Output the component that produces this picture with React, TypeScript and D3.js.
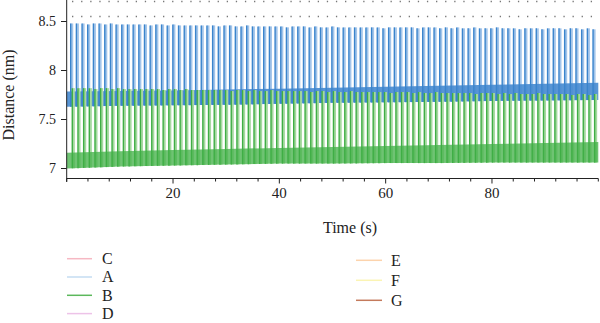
import React from "react";
import * as d3 from "d3";

// Spike times (s), one per cycle
const cycleTimes = [
  0.75, 1.82, 2.89, 3.95, 5.02, 6.09, 7.16, 8.23, 9.29, 10.36,
  11.43, 12.5, 13.57, 14.63, 15.7, 16.77, 17.84, 18.91, 19.97, 21.04,
  22.11, 23.18, 24.25, 25.31, 26.38, 27.45, 28.52, 29.59, 30.65, 31.72,
  32.79, 33.86, 34.93, 35.99, 37.06, 38.13, 39.2, 40.27, 41.33, 42.4,
  43.47, 44.54, 45.61, 46.67, 47.74, 48.81, 49.88, 50.95, 52.01, 53.08,
  54.15, 55.22, 56.29, 57.35, 58.42, 59.49, 60.56, 61.63, 62.69, 63.76,
  64.83, 65.9, 66.97, 68.03, 69.1, 70.17, 71.24, 72.31, 73.37, 74.44,
  75.51, 76.58, 77.65, 78.71, 79.78, 80.85, 81.92, 82.99, 84.05, 85.12,
  86.19, 87.26, 88.33, 89.39, 90.46, 91.53, 92.6, 93.67, 94.73, 95.8,
  96.87, 97.94, 99.01,
];

// Series A: spike maxima (nm)
const aPeaks = [
  8.48, 8.48, 8.48, 8.47, 8.48, 8.48, 8.47, 8.48, 8.47, 8.47,
  8.47, 8.47, 8.47, 8.47, 8.46, 8.47, 8.47, 8.46, 8.47, 8.46,
  8.46, 8.46, 8.46, 8.46, 8.46, 8.46, 8.45, 8.46, 8.46, 8.45,
  8.45, 8.46, 8.45, 8.45, 8.45, 8.45, 8.45, 8.45, 8.44, 8.45,
  8.45, 8.45, 8.44, 8.45, 8.44, 8.44, 8.45, 8.44, 8.44, 8.44,
  8.44, 8.44, 8.44, 8.44, 8.44, 8.43, 8.44, 8.44, 8.44, 8.44,
  8.44, 8.43, 8.44, 8.44, 8.44, 8.43, 8.44, 8.43, 8.44, 8.43,
  8.43, 8.44, 8.43, 8.43, 8.43, 8.44, 8.43, 8.43, 8.43, 8.42,
  8.43, 8.43, 8.43, 8.42, 8.43, 8.43, 8.43, 8.42, 8.43, 8.43,
  8.42, 8.43, 8.42,
];

// Series B: spike maxima (nm)
const bPeaks = [
  7.82, 7.82, 7.82, 7.82, 7.81, 7.82, 7.82, 7.81, 7.82, 7.81,
  7.81, 7.81, 7.81, 7.81, 7.81, 7.81, 7.8, 7.81, 7.81, 7.8,
  7.81, 7.8, 7.8, 7.8, 7.8, 7.8, 7.8, 7.8, 7.79, 7.8,
  7.8, 7.79, 7.8, 7.79, 7.79, 7.8, 7.79, 7.79, 7.79, 7.79,
  7.79, 7.79, 7.78, 7.79, 7.79, 7.78, 7.79, 7.78, 7.78, 7.79,
  7.78, 7.78, 7.78, 7.78, 7.78, 7.78, 7.77, 7.78, 7.78, 7.78,
  7.77, 7.78, 7.77, 7.77, 7.78, 7.77, 7.77, 7.77, 7.77, 7.77,
  7.77, 7.76, 7.77, 7.77, 7.77, 7.76, 7.77, 7.76, 7.77, 7.76,
  7.76, 7.76, 7.77, 7.76, 7.76, 7.76, 7.76, 7.76, 7.75, 7.76,
  7.76, 7.75, 7.76,
];

// Baseline bands (between spikes), sampled every 10 s
const bandTimes = [0, 10, 20, 30, 40, 50, 60, 70, 80, 90, 100];
const aBandLow = [7.63, 7.64, 7.645, 7.65, 7.66, 7.67, 7.675, 7.68, 7.69, 7.695, 7.7];
const aBandHigh = [7.785, 7.79, 7.795, 7.805, 7.815, 7.825, 7.835, 7.845, 7.855, 7.865, 7.875];
const bBandLow = [7.0, 7.02, 7.03, 7.04, 7.05, 7.05, 7.055, 7.055, 7.06, 7.06, 7.06];
const bBandHigh = [7.16, 7.175, 7.19, 7.2, 7.21, 7.22, 7.23, 7.24, 7.25, 7.26, 7.27];

// Axis ticks
const xMinorTicks = d3.range(0, 101, 4);
const xTickLabels = [20, 40, 60, 80];
const yTicks = [7, 7.5, 8, 8.5];
const yTickLabels = ["7", "7.5", "8", "8.5"];
const topDotLevels = [8.704, 8.551];

// Legend
const legendLeft = ["C", "A", "B", "D"];
const legendLeftColors = ["#f6b8c3", "#c4dcf2", "#5cb85c", "#edc3e8"];
const legendRight = ["E", "F", "G"];
const legendRightColors = ["#fcd3ac", "#fbf4b4", "#c47a5c"];

const FONT = "'Liberation Serif', 'DejaVu Serif', serif";

export default function App() {
  const xs = d3.scaleLinear().domain([0, 100]).range([66.7, 598.3]);
  const ys = d3.scaleLinear().domain([7, 8.5]).range([168.5, 21.5]);

  const band = (lo: number[], hi: number[]) =>
    d3
      .area<number>()
      .x((d) => xs(d))
      .y0((_, i) => ys(lo[i]))
      .y1((_, i) => ys(hi[i]))(bandTimes) as string;

  const stripeDur = 0.48;

  const series = [
    { peaks: aPeaks, lo: aBandLow, hi: aBandHigh, dark: "#3a84cc", light: "#a3c5ea", bandFill: "#4689d0", bandOp: 0.9, off: 0 },
    { peaks: bPeaks, lo: bBandLow, hi: bBandHigh, dark: "#3fae45", light: "#a6d9a0", bandFill: "#46b24b", bandOp: 0.78, off: 0.3 },
  ];

  return (
    <svg width={600} height={323} style={{ position: "absolute", left: 0, top: 0, background: "#fff" }}>
      {/* top dotted rows */}
      {topDotLevels.map((v, i) => (
        <line key={"dl" + i} x1={xs(1)} x2={xs(100)} y1={ys(v)} y2={ys(v)} stroke="#777" strokeWidth={1.3} strokeDasharray="1.3 7.8" />
      ))}

      {series.map((s, si) => {
        const loAt = d3.scaleLinear().domain(bandTimes).range(s.lo);
        return (
          <g key={"s" + si}>
            {cycleTimes.map((t, i) => (
              <rect
                key={"st" + i}
                x={xs(t + s.off)}
                width={xs(t + s.off + stripeDur) - xs(t + s.off)}
                y={ys(s.peaks[i])}
                height={ys(loAt(t)) - ys(s.peaks[i])}
                fill={s.light}
              />
            ))}
            <path d={band(s.lo, s.hi)} fill={s.bandFill} opacity={s.bandOp} />
            {cycleTimes.map((t, i) => (
              <line
                key={"sp" + i}
                x1={xs(t + s.off)}
                x2={xs(t + s.off)}
                y1={ys(loAt(t))}
                y2={ys(s.peaks[i])}
                stroke={s.dark}
                strokeWidth={1.4}
              />
            ))}
          </g>
        );
      })}

      {/* axes */}
      <line x1={66.7} x2={66.7} y1={0} y2={182} stroke="#222" strokeWidth={1} />
      <line x1={66.7} x2={598.3} y1={178.5} y2={178.5} stroke="#222" strokeWidth={1} />
      {xMinorTicks.map((t) => (
        <line key={"xt" + t} x1={xs(t)} x2={xs(t)} y1={178.5} y2={xTickLabels.includes(t) ? 183.5 : 181.5} stroke="#222" strokeWidth={1} />
      ))}
      {xTickLabels.map((t) => (
        <text key={"xl" + t} x={xs(t)} y={197.5} textAnchor="middle" fontFamily={FONT} fontSize={15} fill="#222">
          {t}
        </text>
      ))}
      {yTicks.map((v, i) => (
        <g key={"yt" + i}>
          <line x1={61} x2={66.7} y1={ys(v)} y2={ys(v)} stroke="#222" strokeWidth={1} />
          <text x={56} y={ys(v)} dy="0.34em" textAnchor="end" fontFamily={FONT} fontSize={14} fill="#222">
            {yTickLabels[i]}
          </text>
        </g>
      ))}
      <text x={350} y={233} textAnchor="middle" fontFamily={FONT} fontSize={16} fill="#222">
        Time (s)
      </text>
      <text transform="translate(14,95) rotate(-90)" textAnchor="middle" fontFamily={FONT} fontSize={16} fill="#222">
        Distance (nm)
      </text>

      {/* legend */}
      {legendLeft.map((name, i) => {
        const y = 258.7 + i * 18.3;
        return (
          <g key={"ll" + name}>
            <line x1={67} x2={92} y1={y} y2={y} stroke={legendLeftColors[i]} strokeWidth={1.5} />
            <text x={102} y={y + 5.3} fontFamily={FONT} fontSize={16} fill="#222">
              {name}
            </text>
          </g>
        );
      })}
      {legendRight.map((name, i) => {
        const y = 260.3 + i * 20;
        return (
          <g key={"lr" + name}>
            <line x1={356} x2={382} y1={y} y2={y} stroke={legendRightColors[i]} strokeWidth={1.5} />
            <text x={391} y={y + 5.3} fontFamily={FONT} fontSize={16} fill="#222">
              {name}
            </text>
          </g>
        );
      })}
    </svg>
  );
}
